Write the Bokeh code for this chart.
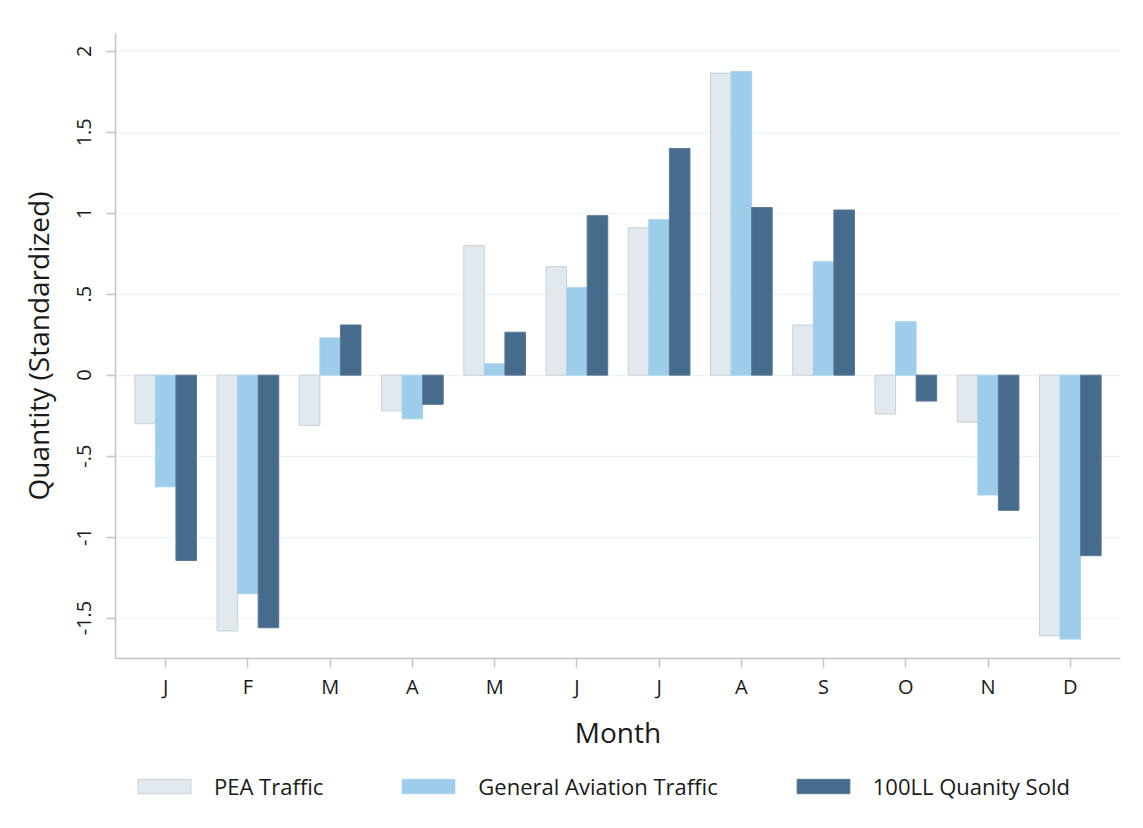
from bokeh.plotting import figure
from bokeh.layouts import column
from bokeh.models import ColumnDataSource, FixedTicker, Legend, LegendItem
from bokeh.transform import dodge
from bokeh.embed import file_html
from bokeh.resources import INLINE

months = ["J", "F", "M", "A", "M", "J", "J", "A", "S", "O", "N", "D"]
month_idx = list(range(1, 13))
pea_traffic = [-0.30, -1.58, -0.31, -0.22, 0.80, 0.67, 0.91, 1.865, 0.31, -0.24, -0.29, -1.61]
ga_traffic = [-0.69, -1.35, 0.23, -0.27, 0.07, 0.54, 0.96, 1.875, 0.70, 0.33, -0.74, -1.63]
ll100_sold = [-1.145, -1.56, 0.31, -0.18, 0.265, 0.985, 1.40, 1.035, 1.02, -0.16, -0.835, -1.115]
y_ticks = [-1.5, -1.0, -0.5, 0.0, 0.5, 1.0, 1.5, 2.0]
y_tick_labels = ["-1.5", "-1", "-.5", "0", ".5", "1", "1.5", "2"]
series_names = ["PEA Traffic", "General Aviation Traffic", "100LL Quanity Sold"]
series_fill = ["#e1e9ef", "#9ecdec", "#476b8c"]
series_line = ["#c9d0d5", "#a9d2ec", "#5c7893"]

FONT = "Open Sans"

src = ColumnDataSource(dict(x=month_idx, pea=pea_traffic, ga=ga_traffic, ll=ll100_sold))

p = figure(frame_width=1005, frame_height=625, x_range=(0.39, 12.61), y_range=(-1.75, 2.11),
           output_backend="svg", toolbar_location=None,
           min_border_left=115, min_border_top=33, min_border_right=7, min_border_bottom=100)
p.outline_line_color = None

w = 0.25
for col, off, fc, lc in zip(["pea", "ga", "ll"], [-w, 0, w], series_fill, series_line):
    p.vbar(x=dodge("x", off, range=p.x_range), top=col, bottom=0, width=w, source=src,
           fill_color=fc, line_color=lc, line_width=1)

p.xgrid.grid_line_color = None
p.ygrid.grid_line_color = "#eef3f5"
p.ygrid.grid_line_width = 1.5
p.ygrid.ticker = FixedTicker(ticks=y_ticks)

p.xaxis.ticker = FixedTicker(ticks=month_idx)
p.xaxis.major_label_overrides = {i: m for i, m in zip(month_idx, months)}
p.yaxis.ticker = FixedTicker(ticks=y_ticks)
p.yaxis.major_label_overrides = {t: l for t, l in zip(y_ticks, y_tick_labels)}
p.yaxis.major_label_orientation = "vertical"

for ax in (p.xaxis[0], p.yaxis[0]):
    ax.axis_line_color = "#c4c4c4"
    ax.axis_line_width = 1.5
    ax.major_tick_line_color = "#c4c4c4"
    ax.major_tick_line_width = 1.5
    ax.major_tick_out = 9
    ax.major_tick_in = 0
    ax.minor_tick_line_color = None
    ax.major_label_text_font = FONT
    ax.major_label_text_font_size = "20px"
    ax.major_label_text_color = "#1a1a1a"
    ax.axis_label_text_font = FONT
    ax.axis_label_text_font_size = "28px"
    ax.axis_label_text_font_style = "normal"
    ax.axis_label_text_color = "#1a1a1a"

p.xaxis.axis_label = "Month"
p.yaxis.axis_label = "Quantity (Standardized)"
p.xaxis.major_label_standoff = 5
p.xaxis.axis_label_standoff = 10
p.yaxis.major_label_standoff = 15
p.yaxis.axis_label_standoff = 18

# Legend strip below the chart (its proxy bars lie outside its visible range)
leg = figure(width=1127, height=50, x_range=(100, 101), y_range=(100, 101),
             output_backend="svg", toolbar_location=None,
             x_axis_type=None, y_axis_type=None, min_border=0)
leg.outline_line_color = None
leg.grid.visible = False
items = []
for name, col, fc, lc in zip(series_names, ["pea", "ga", "ll"], series_fill, series_line):
    r = leg.vbar(x="x", top=col, bottom=0, width=w, source=src,
                 fill_color=fc, line_color=lc, line_width=1)
    items.append(LegendItem(label=name, renderers=[r]))
legend = Legend(items=items, orientation="horizontal", location=(16, 7),
                glyph_width=66, glyph_height=18, label_standoff=17, spacing=72,
                label_text_font=FONT, label_text_font_size="22px", label_text_color="#1a1a1a",
                border_line_color=None, background_fill_alpha=0, margin=0, padding=5)
leg.add_layout(legend, "center")

layout = column(p, leg, spacing=0)
open("out.html", "w").write(file_html(layout, INLINE))
